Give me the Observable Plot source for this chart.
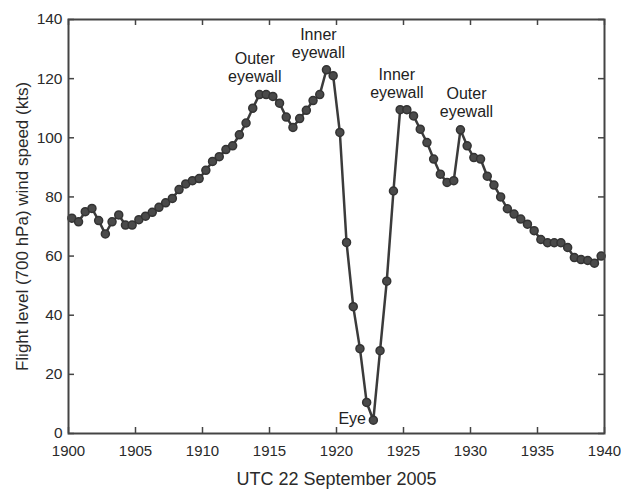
<!DOCTYPE html>
<html>
<head>
<meta charset="utf-8">
<script src="https://cdn.jsdelivr.net/npm/d3@7"></script>
<script src="https://cdn.jsdelivr.net/npm/@observablehq/plot@0.6"></script>
<style>
  body { margin: 0; background: #fff; }
  #chart svg { display: block; }
</style>
</head>
<body>
<div id="chart"></div>
<script>
// Observation times (UTC, hhmm as minutes past 1900) and flight-level wind speed (kts)
const times = [
  1900.25, 1900.75, 1901.25, 1901.75, 1902.25, 1902.75, 1903.25, 1903.75, 1904.25, 1904.75,
  1905.25, 1905.75, 1906.25, 1906.75, 1907.25, 1907.75, 1908.25, 1908.75, 1909.25, 1909.75,
  1910.25, 1910.75, 1911.25, 1911.75, 1912.25, 1912.75, 1913.25, 1913.75, 1914.25, 1914.75,
  1915.25, 1915.75, 1916.25, 1916.75, 1917.25, 1917.75, 1918.25, 1918.75, 1919.25, 1919.75,
  1920.25, 1920.75, 1921.25, 1921.75, 1922.25, 1922.75, 1923.25, 1923.75, 1924.25, 1924.75,
  1925.25, 1925.75, 1926.25, 1926.75, 1927.25, 1927.75, 1928.25, 1928.75, 1929.25, 1929.75,
  1930.25, 1930.75, 1931.25, 1931.75, 1932.25, 1932.75, 1933.25, 1933.75, 1934.25, 1934.75,
  1935.25, 1935.75, 1936.25, 1936.75, 1937.25, 1937.75, 1938.25, 1938.75, 1939.25, 1939.75
];
const speeds = [
  72.8, 71.6, 75.0, 76.1, 72.0, 67.5, 71.6, 73.9, 70.5, 70.5,
  72.3, 73.5, 74.8, 76.5, 78.0, 79.5, 82.5, 84.4, 85.5, 86.2,
  89.0, 92.0, 93.6, 96.0, 97.3, 101.0, 105.0, 110.0, 114.6, 114.6,
  114.0, 111.7, 107.0, 103.5, 106.5, 109.3, 112.6, 114.6, 123.0, 121.0,
  101.8, 64.6, 42.9, 28.7, 10.5, 4.5, 28.0, 51.5, 82.0, 109.5,
  109.5, 107.4, 102.9, 98.4, 92.8, 87.7, 84.9, 85.5, 102.7, 97.3,
  93.3, 92.8, 87.0, 84.0, 80.0, 76.0, 74.2, 72.5, 70.8, 68.6,
  65.6, 64.5, 64.5, 64.5, 62.9, 59.5, 58.8, 58.5, 57.6, 60.0
];

const xTicks = [1900, 1905, 1910, 1915, 1920, 1925, 1930, 1935, 1940];
const yTicks = [0, 20, 40, 60, 80, 100, 120, 140];

// Annotations
const annText   = ["Outer\neyewall", "Inner\neyewall", "Inner\neyewall", "Outer\neyewall"];
const annTime   = [1913.9, 1918.65, 1924.5, 1929.7];
const annSpeed  = [119, 127, 113.5, 107];
const eyeText = ["Eye"];
const eyeTime = [1922.2];
const eyeSpeed = [4.8];

const xLabel = "UTC 22 September 2005";
const yLabel = "Flight level (700 hPa) wind speed (kts)";

const W = 621, H = 490;
const mL = 68, mR = 17, mT = 19, mB = 57;
const innerW = W - mL - mR, innerH = H - mT - mB;

const data = times.map((t, i) => ({t, v: speeds[i]}));
const anns = annText.map((s, i) => ({s, t: annTime[i], v: annSpeed[i]}));
const eye = eyeText.map((s, i) => ({s, t: eyeTime[i], v: eyeSpeed[i]}));

const ink = "#3b3b3b";

const chart = Plot.plot({
  width: W,
  height: H,
  marginLeft: mL,
  marginRight: mR,
  marginTop: mT,
  marginBottom: mB,
  style: {fontFamily: "'Liberation Sans', Arial, sans-serif", fontSize: "16px", color: "#2a2a2a", background: "#fff"},
  x: {domain: [1900, 1940]},
  y: {domain: [0, 140]},
  marks: [
    Plot.axisX(xTicks, {tickSize: 0, tickPadding: 12, tickFormat: d => String(d), fontSize: 15, label: null}),
    Plot.axisY(yTicks, {tickSize: 0, tickPadding: 6, tickFormat: d => String(d), fontSize: 15.5, label: null}),
    // inward tick marks on all four sides
    Plot.tickY(yTicks, {y: d => d, insetRight: innerW - 6, stroke: "#444", strokeWidth: 1.5}),
    Plot.tickY(yTicks, {y: d => d, insetLeft: innerW - 6, stroke: "#444", strokeWidth: 1.5}),
    Plot.tickX(xTicks, {x: d => d, insetTop: innerH - 6, stroke: "#444", strokeWidth: 1.5}),
    Plot.tickX(xTicks, {x: d => d, insetBottom: innerH - 6, stroke: "#444", strokeWidth: 1.5}),
    Plot.line(data, {x: "t", y: "v", stroke: ink, strokeWidth: 2.5}),
    Plot.dot(data, {x: "t", y: "v", r: 4, fill: "#4a4a4a", stroke: "#333", strokeWidth: 1.5}),
    Plot.text(anns, {x: "t", y: "v", text: "s", lineAnchor: "bottom", lineHeight: 1.1, fontSize: 16, fill: "#222"}),
    Plot.text(eye, {x: "t", y: "v", text: "s", textAnchor: "end", fontSize: 16, fill: "#222"}),
    Plot.frame({stroke: "#444", strokeWidth: 2}),
    Plot.text([xLabel], {frameAnchor: "bottom", dy: 51, fontSize: 18, fill: "#2a2a2a"}),
    Plot.text([yLabel], {frameAnchor: "left", textAnchor: "middle", dx: -46, rotate: -90, fontSize: 17, fill: "#2a2a2a"})
  ]
});

document.getElementById("chart").appendChild(chart);
</script>
</body>
</html>
